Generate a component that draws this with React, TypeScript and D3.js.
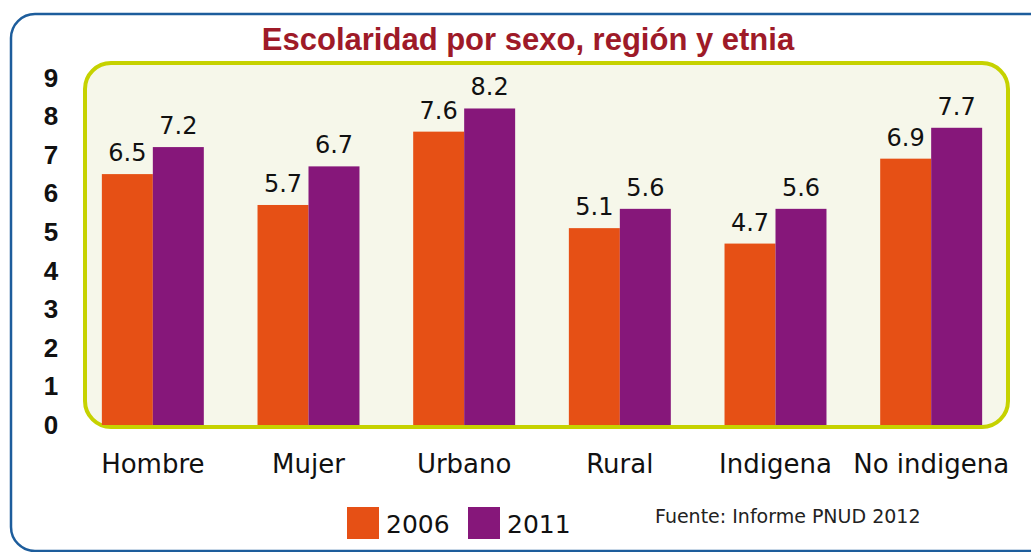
import React from 'react';
import * as d3 from 'd3';

const categories = ['Hombre', 'Mujer', 'Urbano', 'Rural', 'Indigena', 'No indigena'];
const seriesNames = ['2006', '2011'];
const values2006 = [6.5, 5.7, 7.6, 5.1, 4.7, 6.9];
const values2011 = [7.2, 6.7, 8.2, 5.6, 5.6, 7.7];
const yTicks = [0, 1, 2, 3, 4, 5, 6, 7, 8, 9];
const seriesColors = ['#e65015', '#86177a'];
const titleText = 'Escolaridad por sexo, región y etnia';
const sourceText = 'Fuente: Informe PNUD 2012';

const W = 1031;
const H = 552;
const FONT = '"DejaVu Sans", sans-serif';

export default function App() {
  const x0 = d3.scaleBand<string>().domain(categories).range([75, 1009]).paddingInner(0.345).paddingOuter(0.1725);
  const x1 = d3.scaleBand<string>().domain(seriesNames).range([0, x0.bandwidth()]);
  const y = d3.scaleLinear().domain([0, 9]).range([425, 77.6]);
  const seriesValues = [values2006, values2011];

  return (
    <svg width={W} height={H} style={{ position: 'absolute', left: 0, top: 0, background: '#fff' }}>
      <rect x={11} y={14} width={1045} height={537} rx={24} ry={24} fill="#fff" stroke="#1d5d9c" strokeWidth={2.5} />
      <text x={528} y={50} textAnchor="middle" fontFamily={'"Liberation Sans", Arial, sans-serif'} fontWeight="bold" fontSize={31} fill="#9e1a28">
        {titleText}
      </text>
      <rect x={85} y={63} width={923} height={364} rx={26} ry={26} fill="#f6f7ea" stroke="#c6d200" strokeWidth={4} />
      {yTicks.map((t) => (
        <text key={t} x={51} y={y(t) + 9} textAnchor="middle" fontFamily={'"Liberation Sans", Arial, sans-serif'} fontWeight="bold" fontSize={26} fill="#111">
          {t}
        </text>
      ))}
      {categories.map((c, i) => (
        <g key={c} transform={`translate(${x0(c)},0)`}>
          {seriesNames.map((s, j) => {
            const v = seriesValues[j][i];
            return (
              <g key={s}>
                <rect x={x1(s)} y={y(v)} width={x1.bandwidth()} height={y(0) - y(v)} fill={seriesColors[j]} />
                <text x={(x1(s) as number) + x1.bandwidth() / 2} y={y(v) - 13} textAnchor="middle" fontFamily={FONT} fontSize={24} fill="#111">
                  {v.toFixed(1)}
                </text>
              </g>
            );
          })}
          <text x={x0.bandwidth() / 2} y={473} textAnchor="middle" fontFamily={FONT} fontSize={26} fill="#111">
            {c}
          </text>
        </g>
      ))}
      {seriesNames.map((s, j) => (
        <g key={s} transform={`translate(${347 + j * 121},507)`}>
          <rect x={0} y={0} width={32} height={32} fill={seriesColors[j]} />
          <text x={39} y={26} fontFamily={FONT} fontSize={25} fill="#111">
            {s}
          </text>
        </g>
      ))}
      <text x={655} y={523} fontFamily={FONT} fontSize={19} fill="#222">
        {sourceText}
      </text>
    </svg>
  );
}
